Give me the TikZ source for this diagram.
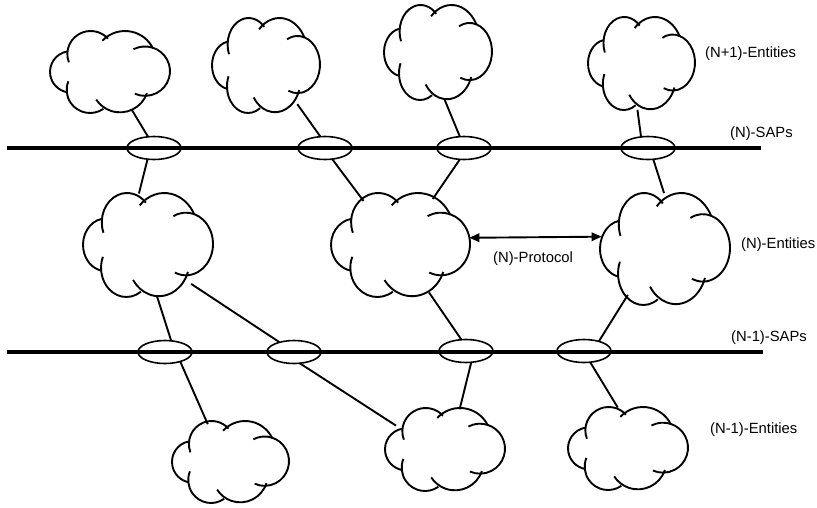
\documentclass[tikz,border=0pt]{standalone}
\usepackage{fontspec}
\setmainfont{Liberation Sans}
\usetikzlibrary{shapes.geometric,arrows.meta}
\tikzset{
  cloudline/.style={line width=1.9pt, line join=round},
  cloudnode/.style={ellipse, inner sep=0pt, outer sep=0pt},
  sap/.style={ellipse, draw, line width=1.6pt, minimum width=54pt, minimum height=23pt, inner sep=0pt, outer sep=0pt},
  sapline/.style={line width=3.2pt},
  conn/.style={line width=1.9pt},
  lbl/.style={anchor=west, inner sep=0pt, font=\fontsize{14.8}{17}\selectfont},
}
\newcommand\cloudpic[5]{%
  \node[cloudnode, minimum width=#4pt, minimum height=#5pt] (#1) at (#2,#3) {};
  \begin{scope}[shift={(#2,#3)}, xscale=#4/360, yscale=#5/249]
    \draw[cloudline] (-58,-54.5) ++(-201:70) arc[start angle=-201, end angle=-42, radius=70];
    \draw[cloudline] (45,-31.5) ++(-137:93) arc[start angle=-137, end angle=-26, radius=93];
    \draw[cloudline] (105,-2.5) ++(-117.6:75) arc[start angle=-117.6, end angle=114, radius=75];
    \draw[cloudline] (30,37.5) ++(18.4:85) arc[start angle=18.4, end angle=147, radius=85];
    \draw[cloudline] (-60,54.5) ++(55:70) arc[start angle=55, end angle=202, radius=70];
    \draw[cloudline] (-117,-0.5) ++(-100:63) arc[start angle=-100, end angle=-260, radius=63];
  \end{scope}}
\begin{document}
\begin{tikzpicture}[x=1pt,y=-1pt]
\useasboundingbox (0,0) rectangle (817,507);
% SAP lines
\coordinate (ta) at (7,148); \coordinate (tb) at (761,148);
\coordinate (ba) at (7,352); \coordinate (bb) at (763,352);
\draw[sapline] (ta) -- (tb);
\draw[sapline] (ba) -- (bb);
% SAPs
\node[sap] (e1) at (154,148) {};
\node[sap] (e2) at (325,148) {};
\node[sap] (e3) at (464,148) {};
\node[sap] (e4) at (648,148) {};
\node[sap] (f1) at (165,352) {};
\node[sap] (f2) at (294,352) {};
\node[sap] (f3) at (466,351) {};
\node[sap] (f4) at (584,351) {};
% clouds
\cloudpic{c1}{110}{72}{120}{82}
\cloudpic{c2}{266}{65.5}{108}{95}
\cloudpic{c3}{438}{52.5}{108}{95}
\cloudpic{c4}{641.5}{63.5}{107}{93}
\cloudpic{m1}{148}{245}{130}{104}
\cloudpic{m2}{400.5}{245}{139}{104}
\cloudpic{m3}{665}{249}{130}{112}
\cloudpic{b1}{230.5}{462}{117}{82}
\cloudpic{b2}{445}{449.5}{120}{83}
\cloudpic{b3}{628}{448.5}{120}{83}
% connectors
\draw[conn] (c1.-60) -- (e1.118.6);
\draw[conn] (e1.-120) -- (m1.100.9);
\draw[conn] (c2.-51.5) -- (e2.112.6);
\draw[conn] (e2.-57.5) -- (m2.130);
\draw[conn] (c3.-82.8) -- (e3.110);
\draw[conn] (e3.-110) -- (m2.55.4);
\draw[conn] (c4.-95.8) -- (e4.122);
\draw[conn] (e4.-65.6) -- (m3.91);
\draw[conn] (m1.-80) -- (f1.61);
\draw[conn] (m1.-42.6) -- (f2.146);
\draw[conn] (f1.-32) -- (b1.121.5);
\draw[conn] (f2.-63) -- (b2.154.5);
\draw[conn] (m2.-59.7) -- (f3.112.6);
\draw[conn] (f3.-65.6) -- (b2.70.6);
\draw[conn] (m3.-129) -- (f4.33.7);
\draw[conn] (f4.-61) -- (b3.104.8);
% protocol arrow
\draw[conn, {Triangle[length=10pt,width=8.5pt]}-{Triangle[length=10pt,width=8.5pt]}] (m2.6.4) -- (m3.169.5);
% labels
\node[lbl] (t1) at (705,54) {(N+1)-Entities};
\node[lbl] (t2) at (730,134) {(N)-SAPs};
\node[lbl] (t3) at (741,245) {(N)-Entities};
\node[lbl] (t4) at (493,259) {(N)-Protocol};
\node[lbl] (t5) at (731,338) {(N-1)-SAPs};
\node[lbl] (t6) at (710,430) {(N-1)-Entities};
\end{tikzpicture}
\end{document}
